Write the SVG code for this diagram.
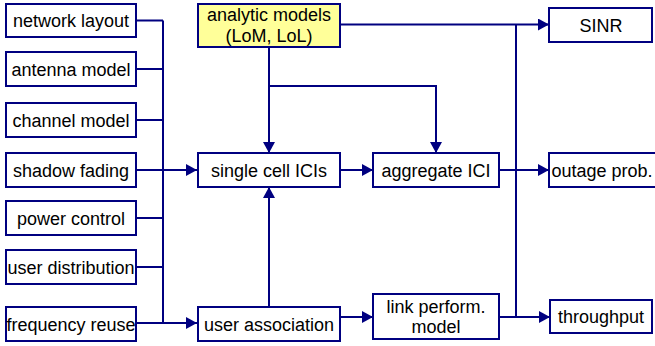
<svg xmlns="http://www.w3.org/2000/svg" width="655" height="346" viewBox="0 0 655 346">
<style>
.box{fill:#fff;stroke:#000080;stroke-width:2}
.yel{fill:#ffff99;stroke:#000080;stroke-width:2}
text{font-family:"Liberation Sans",Arial,sans-serif;font-size:18px;fill:#000;text-anchor:middle}
.ln{fill:none;stroke:#000080;stroke-width:2}
</style>
<defs>
<marker id="ah" markerWidth="11" markerHeight="12" refX="11" refY="6" orient="auto" markerUnits="userSpaceOnUse">
<path d="M0,0 L11,6 L0,12 Z" fill="#000080"/>
</marker>
</defs>
<rect width="655" height="346" fill="#fff"/>
<g id="connectors">
<path class="ln" d="M136,20.5 H163 M136,69 H163 M136,120 H163 M136,218 H163 M136,267 H163 M163,20.5 V323"/>
<path class="ln" d="M136,170 H197" marker-end="url(#ah)"/>
<path class="ln" d="M136,323 H197" marker-end="url(#ah)"/>
<path class="ln" d="M269,47 V153" marker-end="url(#ah)"/>
<path class="ln" d="M269,86 H436 V153" marker-end="url(#ah)"/>
<path class="ln" d="M340,24.5 H549" marker-end="url(#ah)"/>
<path class="ln" d="M340,170 H373" marker-end="url(#ah)"/>
<path class="ln" d="M269,307 V187" marker-end="url(#ah)"/>
<path class="ln" d="M340,317 H373" marker-end="url(#ah)"/>
<path class="ln" d="M499,170 H549" marker-end="url(#ah)"/>
<path class="ln" d="M499,317 H550" marker-end="url(#ah)"/>
<path class="ln" d="M516,24.5 V317"/>
</g>
<g id="network-layout"><rect class="box" x="6" y="4" width="130" height="33"/><text x="71" y="27">network layout</text></g>
<g id="antenna-model"><rect class="box" x="6" y="52" width="130" height="34"/><text x="71" y="75.5">antenna model</text></g>
<g id="channel-model"><rect class="box" x="6" y="103" width="130" height="34"/><text x="71" y="126.5">channel model</text></g>
<g id="shadow-fading"><rect class="box" x="6" y="153" width="130" height="34"/><text x="71" y="176.5">shadow fading</text></g>
<g id="power-control"><rect class="box" x="6" y="201" width="130" height="34"/><text x="71" y="224.5">power control</text></g>
<g id="user-distribution"><rect class="box" x="6" y="250" width="130" height="34"/><text x="71" y="273.5">user distribution</text></g>
<g id="frequency-reuse"><rect class="box" x="6" y="307" width="130" height="34"/><text x="71" y="330.5">frequency reuse</text></g>
<g id="analytic-models"><rect class="yel" x="198" y="4" width="142" height="43"/><text x="269" y="21">analytic models</text><text x="269" y="42">(LoM, LoL)</text></g>
<g id="single-cell-icis"><rect class="box" x="198" y="153" width="142" height="34"/><text x="269" y="176.5">single cell ICIs</text></g>
<g id="user-association"><rect class="box" x="198" y="307" width="142" height="34"/><text x="269" y="330.5">user association</text></g>
<g id="aggregate-ici"><rect class="box" x="373" y="153" width="126" height="34"/><text x="436" y="176.5">aggregate ICI</text></g>
<g id="link-perform-model"><rect class="box" x="373" y="294" width="126" height="45"/><text x="436" y="313">link perform.</text><text x="436" y="333">model</text></g>
<g id="sinr"><rect class="box" x="549" y="8" width="103" height="34"/><text x="601" y="31.5">SINR</text></g>
<g id="outage-prob"><rect class="box" x="549" y="153" width="110" height="34"/><text x="602" y="176.5">outage prob.</text></g>
<g id="throughput"><rect class="box" x="550" y="300" width="102" height="33"/><text x="601" y="323">throughput</text></g>
</svg>
